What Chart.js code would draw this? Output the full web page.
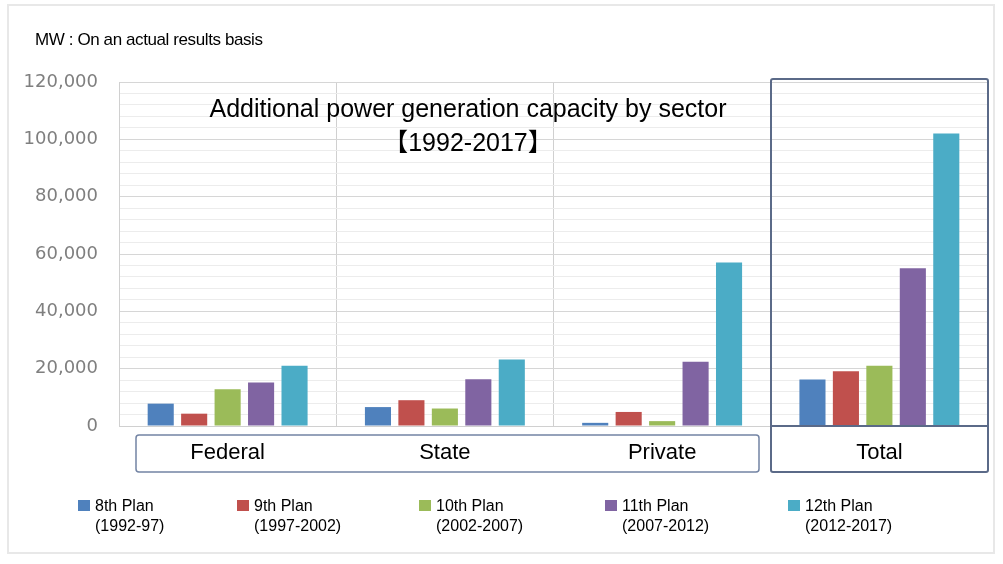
<!DOCTYPE html>
<html>
<head>
<meta charset="utf-8">
<script src="https://cdn.jsdelivr.net/npm/chart.js@4.4.0/dist/chart.umd.min.js"></script>
<style>
  html, body { margin: 0; padding: 0; background: #fff; }
  #wrap { position: relative; width: 1003px; height: 564px; overflow: hidden; }
  #frame { position: absolute; left: 7px; top: 4px; width: 988px; height: 550px; border: 2px solid #e8e8e8; box-sizing: border-box; }
  canvas { position: absolute; left: 0; top: 0; }
  .txt { position: absolute; font-family: Arial, "Liberation Sans", "Noto Sans CJK JP", sans-serif; color: #000; white-space: nowrap; }
  #unit { left: 35px; top: 30px; font-size: 17px; line-height: 20px; letter-spacing: -0.4px; }
  #title { left: 0; width: 936px; top: 91px; font-size: 25px; line-height: 34px; text-align: center; }
  #legend { left: 0; top: 496px; height: 44px; }
  .item { position: absolute; top: 0; font-size: 16px; line-height: 20px; }
  .item i { position: absolute; left: 0; top: 4px; width: 12px; height: 11px; }
  .item span { position: absolute; left: 17px; top: 0; }
</style>
</head>
<body>
<div id="wrap">
  <div id="frame"></div>
  <canvas id="capacityChart" width="1003" height="564"></canvas>
  <div id="unit" class="txt">MW : On an actual results basis</div>
  <div id="title" class="txt">Additional power generation capacity by sector<br>【1992-2017】</div>
  <div id="legend" class="txt"></div>
</div>
<script>
// sectors on the x axis
const sectors = ['Federal', 'State', 'Private', 'Total'];

// five-year plans
const planNames = ['8th Plan', '9th Plan', '10th Plan', '11th Plan', '12th Plan'];
const planYears = ['(1992-97)', '(1997-2002)', '(2002-2007)', '(2007-2012)', '(2012-2017)'];
const planColors = ['#4F81BD', '#C0504D', '#9BBB59', '#8064A2', '#4BACC6'];

// capacity added (MW) per sector: Federal, State, Private, Total
const plan8 = [7800, 6600, 1100, 16200];
const plan9 = [4300, 9000, 4900, 19100];
const plan10 = [12800, 6100, 1700, 21000];
const plan11 = [15200, 16300, 22400, 55000];
const plan12 = [21000, 23200, 57000, 102000];

const planValues = [plan8, plan9, plan10, plan11, plan12];

// left edge of each legend entry
const legendLeft = [78, 237, 419, 605, 788];

// boxes round the sector labels and the Total panel
const sectorFrames = {
  id: 'sectorFrames',
  afterDraw(chart) {
    const { ctx, chartArea: a, scales: { x } } = chart;
    const half = (x.getPixelForValue(1) - x.getPixelForValue(0)) / 2;
    const totalLeft = Math.round(x.getPixelForValue(3) - half);
    ctx.save();
    ctx.strokeStyle = '#7384a4';
    ctx.lineWidth = 1.5;
    ctx.beginPath();
    ctx.roundRect(a.left + 17, a.bottom + 9, totalLeft - 12 - (a.left + 17), 37, 3);
    ctx.stroke();
    ctx.strokeStyle = '#5b6a88';
    ctx.lineWidth = 2;
    ctx.beginPath();
    ctx.roundRect(totalLeft, a.top - 3, a.right - totalLeft, a.bottom + 46 - (a.top - 3), 2);
    ctx.stroke();
    ctx.beginPath();
    ctx.moveTo(totalLeft, a.bottom);
    ctx.lineTo(a.right, a.bottom);
    ctx.stroke();
    ctx.restore();
  }
};

const ctx = document.getElementById('capacityChart').getContext('2d');
new Chart(ctx, {
  type: 'bar',
  data: {
    labels: sectors,
    datasets: planNames.map((name, i) => ({
      label: name + ' ' + planYears[i],
      data: planValues[i],
      backgroundColor: planColors[i],
      borderWidth: 0,
      categoryPercentage: 0.77,
      barPercentage: 0.78
    }))
  },
  options: {
    responsive: false,
    devicePixelRatio: 1,
    animation: false,
    layout: { padding: { top: 82, right: 15, bottom: 0, left: 0 } },
    plugins: {
      legend: { display: false },
      title: { display: false },
      tooltip: { enabled: false }
    },
    scales: {
      x: {
        grid: { color: '#d0d0d0', drawTicks: false },
        border: { color: '#d0d0d0' },
        ticks: {
          color: '#000',
          padding: 14,
          maxRotation: 0,
          autoSkip: false,
          font: { family: 'Arial, "Liberation Sans", sans-serif', size: 22 }
        },
        afterFit(scale) { scale.height = 138; }
      },
      y: {
        min: 0,
        max: 120000,
        grid: {
          drawTicks: false,
          color: c => (c.tick.value % 20000 === 0 ? '#d6d6d6' : '#ececec')
        },
        border: { color: '#d0d0d0' },
        ticks: {
          stepSize: 4000,
          autoSkip: false,
          padding: 21,
          color: '#7f7f7f',
          font: { family: '"DejaVu Sans", Verdana, sans-serif', size: 18 },
          callback: v => (v % 20000 === 0 ? v.toLocaleString('en-US') : '')
        },
        afterFit(scale) { scale.width = 119; }
      }
    }
  },
  plugins: [sectorFrames]
});

// legend, two lines per plan
const legend = document.getElementById('legend');
planNames.forEach((name, i) => {
  const item = document.createElement('div');
  item.className = 'item';
  item.style.left = legendLeft[i] + 'px';
  item.innerHTML = '<i style="background:' + planColors[i] + '"></i><span>' + name + '<br>' + planYears[i] + '</span>';
  legend.appendChild(item);
});
</script>
</body>
</html>
